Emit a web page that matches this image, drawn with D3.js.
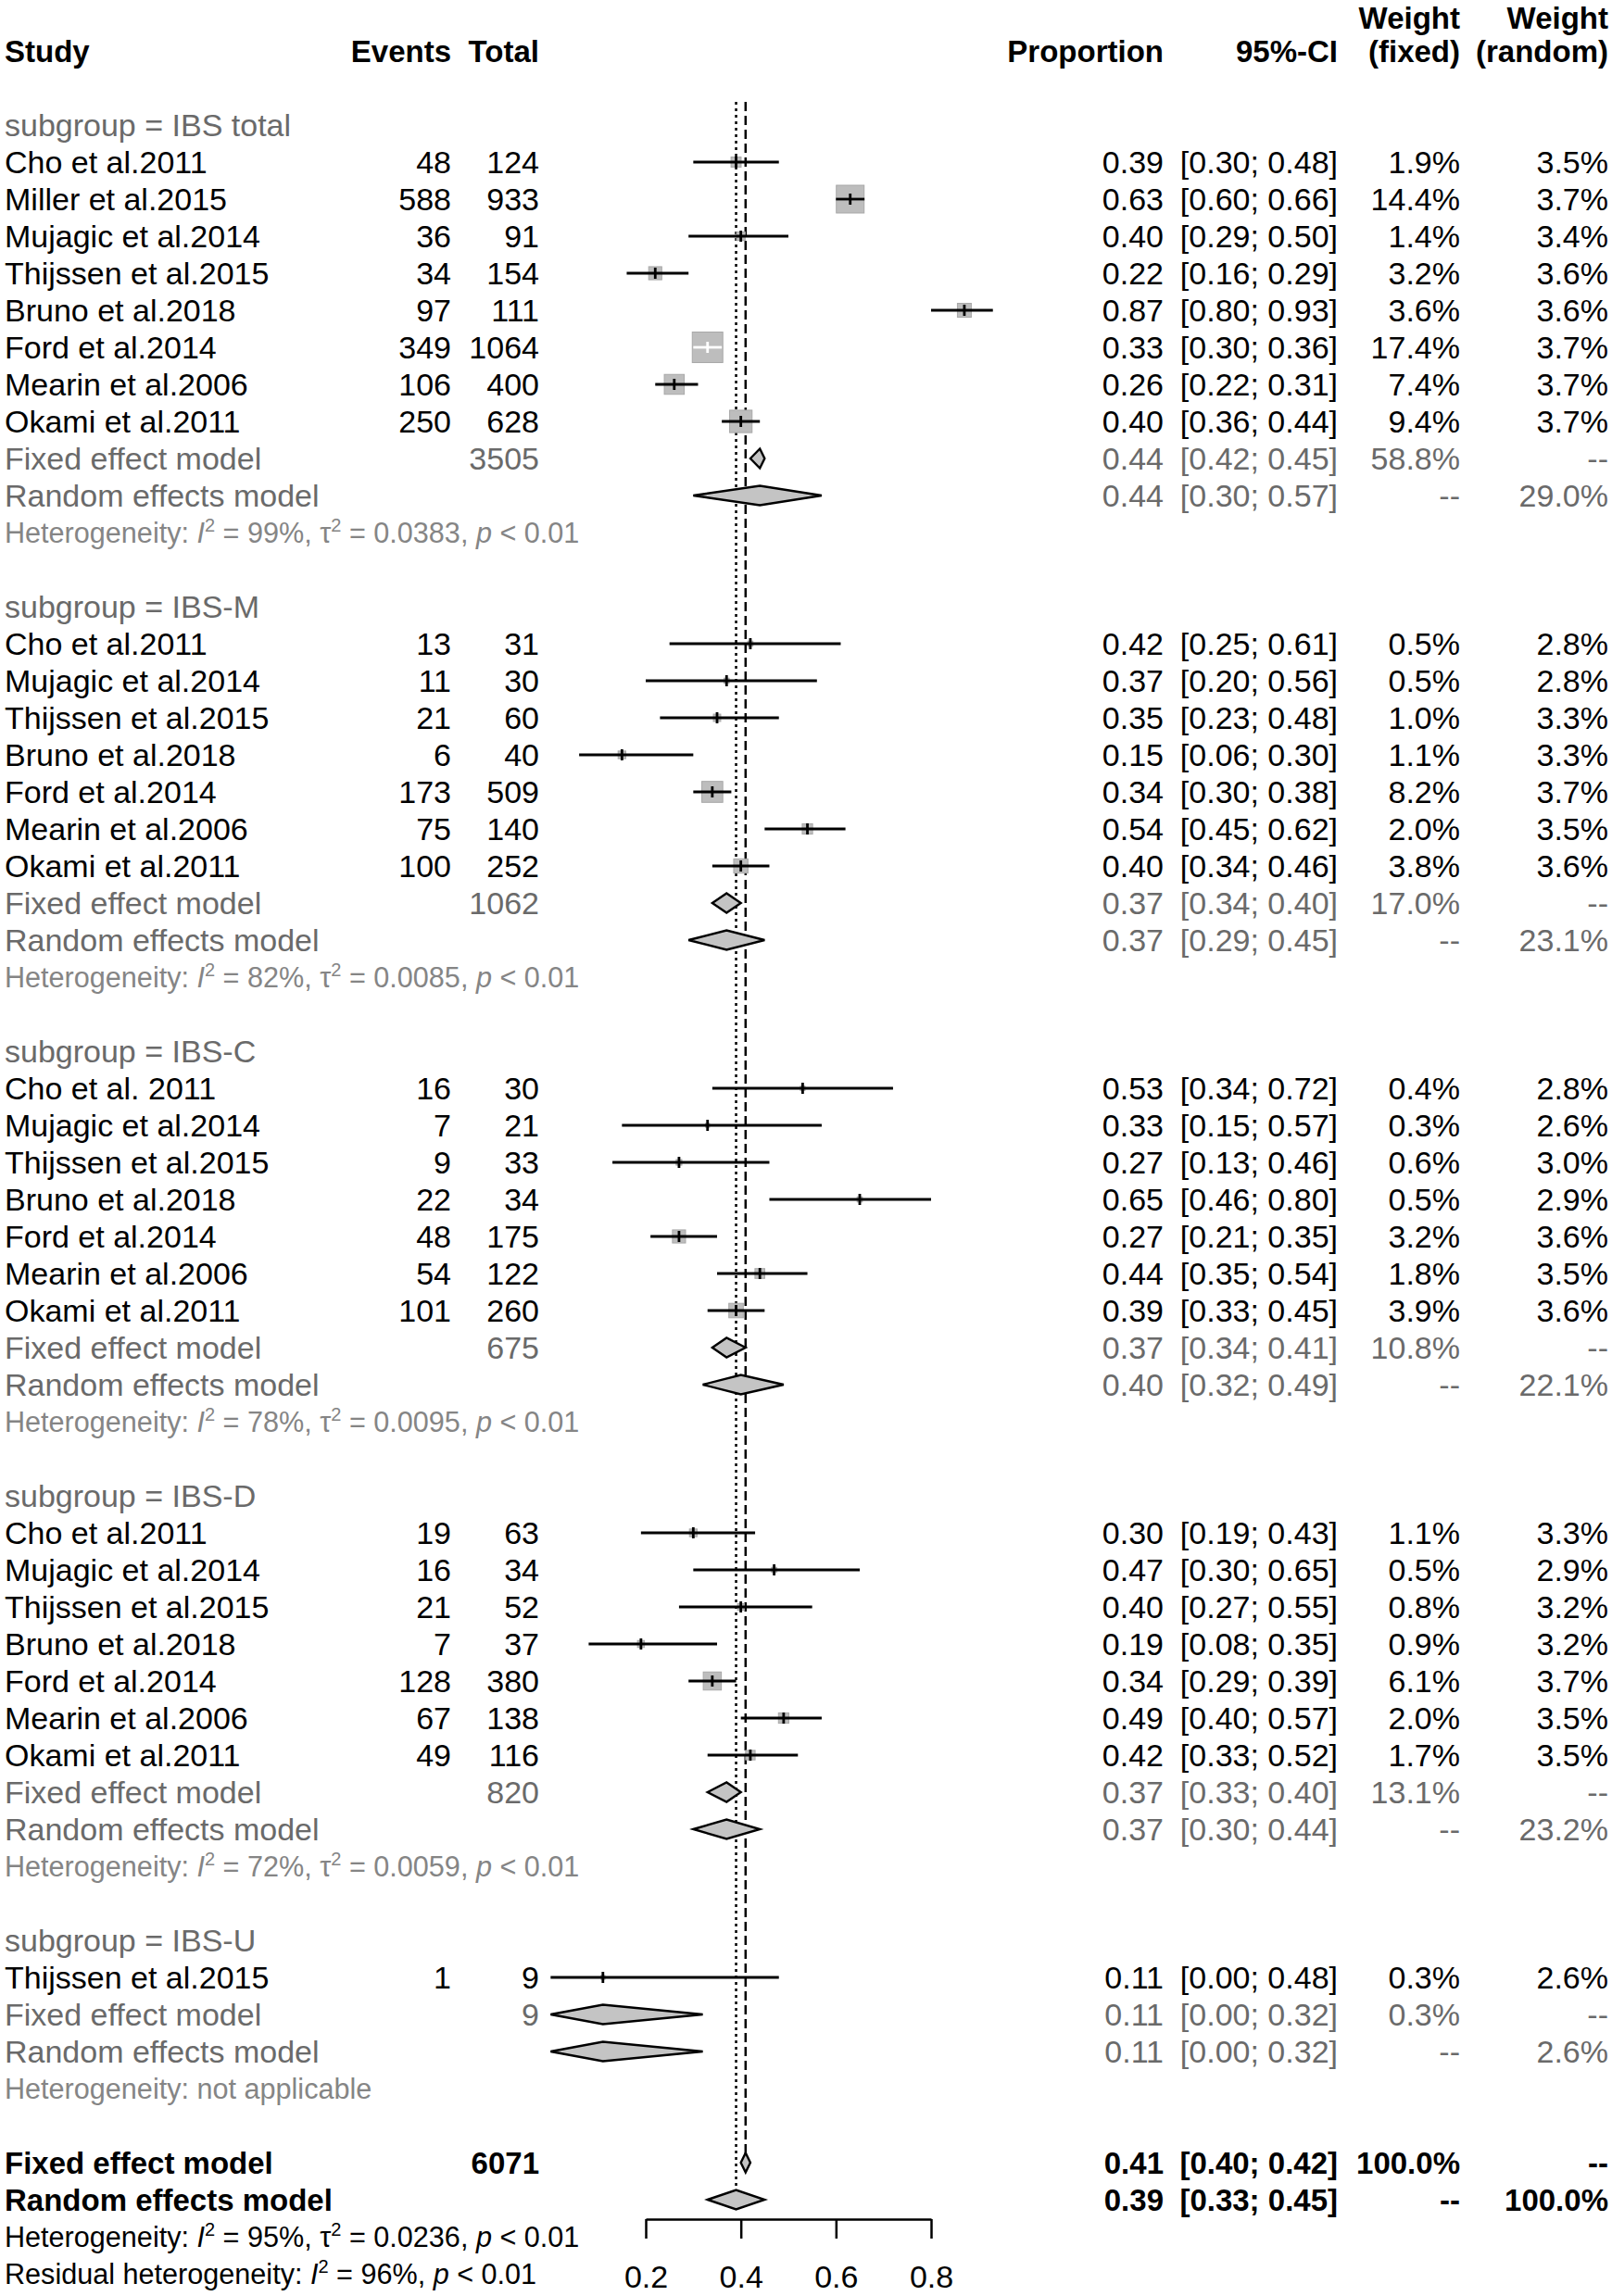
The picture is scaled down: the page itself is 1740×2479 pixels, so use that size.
<!DOCTYPE html>
<html>
<head>
<meta charset="utf-8">
<script src="https://cdn.jsdelivr.net/npm/d3@7"></script>
<style>
  body { margin: 0; background: #fff; }
  text { font-family: "Liberation Sans", Arial, sans-serif; }
</style>
</head>
<body>
<svg id="chart" width="1740" height="2479"></svg>
<script>
// ---- data ----
var subgroups = ['IBS total', 'IBS-M', 'IBS-C', 'IBS-D', 'IBS-U'];

var studyGroup = [0, 0, 0, 0, 0, 0, 0, 0,
  1, 1, 1, 1, 1, 1, 1,
  2, 2, 2, 2, 2, 2, 2,
  3, 3, 3, 3, 3, 3, 3,
  4];
var studyNames = [
  'Cho et al.2011', 'Miller et al.2015', 'Mujagic et al.2014', 'Thijssen et al.2015', 'Bruno et al.2018', 'Ford et al.2014', 'Mearin et al.2006', 'Okami et al.2011',
  'Cho et al.2011', 'Mujagic et al.2014', 'Thijssen et al.2015', 'Bruno et al.2018', 'Ford et al.2014', 'Mearin et al.2006', 'Okami et al.2011',
  'Cho et al. 2011', 'Mujagic et al.2014', 'Thijssen et al.2015', 'Bruno et al.2018', 'Ford et al.2014', 'Mearin et al.2006', 'Okami et al.2011',
  'Cho et al.2011', 'Mujagic et al.2014', 'Thijssen et al.2015', 'Bruno et al.2018', 'Ford et al.2014', 'Mearin et al.2006', 'Okami et al.2011',
  'Thijssen et al.2015'];
var events = [48, 588, 36, 34, 97, 349, 106, 250,
  13, 11, 21, 6, 173, 75, 100,
  16, 7, 9, 22, 48, 54, 101,
  19, 16, 21, 7, 128, 67, 49,
  1];
var totals = [124, 933, 91, 154, 111, 1064, 400, 628,
  31, 30, 60, 40, 509, 140, 252,
  30, 21, 33, 34, 175, 122, 260,
  63, 34, 52, 37, 380, 138, 116,
  9];
var props = [0.39, 0.63, 0.40, 0.22, 0.87, 0.33, 0.26, 0.40,
  0.42, 0.37, 0.35, 0.15, 0.34, 0.54, 0.40,
  0.53, 0.33, 0.27, 0.65, 0.27, 0.44, 0.39,
  0.30, 0.47, 0.40, 0.19, 0.34, 0.49, 0.42,
  0.11];
var ciLow = [0.30, 0.60, 0.29, 0.16, 0.80, 0.30, 0.22, 0.36,
  0.25, 0.20, 0.23, 0.06, 0.30, 0.45, 0.34,
  0.34, 0.15, 0.13, 0.46, 0.21, 0.35, 0.33,
  0.19, 0.30, 0.27, 0.08, 0.29, 0.40, 0.33,
  0.00];
var ciHigh = [0.48, 0.66, 0.50, 0.29, 0.93, 0.36, 0.31, 0.44,
  0.61, 0.56, 0.48, 0.30, 0.38, 0.62, 0.46,
  0.72, 0.57, 0.46, 0.80, 0.35, 0.54, 0.45,
  0.43, 0.65, 0.55, 0.35, 0.39, 0.57, 0.52,
  0.48];
var weightFixed = [1.9, 14.4, 1.4, 3.2, 3.6, 17.4, 7.4, 9.4,
  0.5, 0.5, 1.0, 1.1, 8.2, 2.0, 3.8,
  0.4, 0.3, 0.6, 0.5, 3.2, 1.8, 3.9,
  1.1, 0.5, 0.8, 0.9, 6.1, 2.0, 1.7,
  0.3];
var weightRandom = [3.5, 3.7, 3.4, 3.6, 3.6, 3.7, 3.7, 3.7,
  2.8, 2.8, 3.3, 3.3, 3.7, 3.5, 3.6,
  2.8, 2.6, 3.0, 2.9, 3.6, 3.5, 3.6,
  3.3, 2.9, 3.2, 3.2, 3.7, 3.5, 3.5,
  2.6];

// subgroup summaries
var groupN = [3505, 1062, 675, 820, 9];
var groupFixedEst = [0.44, 0.37, 0.37, 0.37, 0.11];
var groupFixedLow = [0.42, 0.34, 0.34, 0.33, 0.00];
var groupFixedHigh = [0.45, 0.40, 0.41, 0.40, 0.32];
var groupFixedWeight = [58.8, 17.0, 10.8, 13.1, 0.3];
var groupRandomEst = [0.44, 0.37, 0.40, 0.37, 0.11];
var groupRandomLow = [0.30, 0.29, 0.32, 0.30, 0.00];
var groupRandomHigh = [0.57, 0.45, 0.49, 0.44, 0.32];
var groupRandomWeight = [29.0, 23.1, 22.1, 23.2, 2.6];
var groupI2 = ['99%', '82%', '78%', '72%', null];
var groupTau2 = ['0.0383', '0.0085', '0.0095', '0.0059', null];

// overall
var overallN = 6071;
var overallFixed = [0.41, 0.40, 0.42];
var overallRandom = [0.39, 0.33, 0.45];
var overallI2 = '95%', overallTau2 = '0.0236', residualI2 = '96%';

var tickValues = [0.2, 0.4, 0.6, 0.8];

// ---- layout ----
var FS = 34, BFS = 33, HFS = 30.6;
var GREY = '#6a6a6a', HGREY = '#858585';
var svg = d3.select('#chart');
var x = d3.scaleLinear().domain([0.2, 0.8]).range([697, 1005]);
var y = d3.scaleLinear().domain([0, 60]).range([55, 2455]);
var col = { name: 5, events: 487, total: 582, prop: 1256, ci: 1444, wf: 1576, wr: 1736 };
var f2 = d3.format('.2f'), f1 = d3.format('.1f');
var pct = function(v) { return f1(v) + '%'; };
var ci = function(lo, hi) { return '[' + f2(lo) + '; ' + f2(hi) + ']'; };

var textLayer = svg.append('g');
var refLayer = svg.append('g');
var markLayer = svg.append('g');

function put(s, xx, row, anchor, opts) {
  opts = opts || {};
  return textLayer.append('text')
    .attr('x', xx).attr('y', y(row)).attr('dy', '0.35em')
    .attr('text-anchor', anchor)
    .attr('font-size', opts.bold ? BFS : FS)
    .attr('font-weight', opts.bold ? 'bold' : 'normal')
    .attr('fill', opts.fill || '#000')
    .text(s);
}

function hetLine(row, label, i2, tau2, fill) {
  var t = textLayer.append('text')
    .attr('x', col.name).attr('y', y(row)).attr('dy', '0.35em')
    .attr('font-size', HFS).attr('fill', fill);
  if (i2 === null) { t.text(label + 'not applicable'); return; }
  t.append('tspan').text(label);
  t.append('tspan').attr('font-style', 'italic').text('I');
  t.append('tspan').attr('font-size', 20).attr('dy', -12).text('2');
  t.append('tspan').attr('dy', 12).text(' = ' + i2 + ', ');
  if (tau2 !== null) {
    t.append('tspan').text('\u03c4');
    t.append('tspan').attr('font-size', 20).attr('dy', -12).text('2');
    t.append('tspan').attr('dy', 12).text(' = ' + tau2 + ', ');
  }
  t.append('tspan').attr('font-style', 'italic').text('p');
  t.append('tspan').text(' < 0.01');
}

function diamond(row, est, lo, hi) {
  var yc = y(row), h = 10.5;
  markLayer.append('polygon')
    .attr('points', [[x(lo), yc], [x(est), yc - h], [x(hi), yc], [x(est), yc + h]].join(' '))
    .attr('fill', '#c4c4c4').attr('stroke', '#000').attr('stroke-width', 2.4);
}

// header
put('Study', col.name, 0, 'start', { bold: true });
put('Events', col.events, 0, 'end', { bold: true });
put('Total', col.total, 0, 'end', { bold: true });
put('Proportion', col.prop, 0, 'end', { bold: true });
put('95%-CI', col.ci, 0, 'end', { bold: true });
put('Weight', col.wf, -0.9, 'end', { bold: true });
put('(fixed)', col.wf, 0, 'end', { bold: true });
put('Weight', col.wr, -0.9, 'end', { bold: true });
put('(random)', col.wr, 0, 'end', { bold: true });

var row = 2;
var studyRows = [];
subgroups.forEach(function(g, gi) {
  put('subgroup = ' + g, col.name, row, 'start', { fill: GREY });
  var idx = d3.range(studyNames.length).filter(function(i) { return studyGroup[i] === gi; });
  idx.forEach(function(i, k) {
    var r = row + 1 + k;
    studyRows.push({ i: i, row: r });
    put(studyNames[i], col.name, r, 'start');
    put(events[i], col.events, r, 'end');
    put(totals[i], col.total, r, 'end');
    put(f2(props[i]), col.prop, r, 'end');
    put(ci(ciLow[i], ciHigh[i]), col.ci, r, 'end');
    put(pct(weightFixed[i]), col.wf, r, 'end');
    put(pct(weightRandom[i]), col.wr, r, 'end');
  });
  var rf = row + 1 + idx.length, rr = rf + 1, rh = rf + 2;
  put('Fixed effect model', col.name, rf, 'start', { fill: GREY });
  put(groupN[gi], col.total, rf, 'end', { fill: GREY });
  put(f2(groupFixedEst[gi]), col.prop, rf, 'end', { fill: GREY });
  put(ci(groupFixedLow[gi], groupFixedHigh[gi]), col.ci, rf, 'end', { fill: GREY });
  put(pct(groupFixedWeight[gi]), col.wf, rf, 'end', { fill: GREY });
  put('--', col.wr, rf, 'end', { fill: GREY });
  put('Random effects model', col.name, rr, 'start', { fill: GREY });
  put(f2(groupRandomEst[gi]), col.prop, rr, 'end', { fill: GREY });
  put(ci(groupRandomLow[gi], groupRandomHigh[gi]), col.ci, rr, 'end', { fill: GREY });
  put('--', col.wf, rr, 'end', { fill: GREY });
  put(pct(groupRandomWeight[gi]), col.wr, rr, 'end', { fill: GREY });
  hetLine(rh, 'Heterogeneity: ', groupI2[gi], groupTau2[gi], HGREY);
  diamond(rf, groupFixedEst[gi], groupFixedLow[gi], groupFixedHigh[gi]);
  diamond(rr, groupRandomEst[gi], groupRandomLow[gi], groupRandomHigh[gi]);
  row = rh + 2;
});

// overall
var rowF = row, rowR = row + 1;
put('Fixed effect model', col.name, rowF, 'start', { bold: true });
put(overallN, col.total, rowF, 'end', { bold: true });
put(f2(overallFixed[0]), col.prop, rowF, 'end', { bold: true });
put(ci(overallFixed[1], overallFixed[2]), col.ci, rowF, 'end', { bold: true });
put('100.0%', col.wf, rowF, 'end', { bold: true });
put('--', col.wr, rowF, 'end', { bold: true });
put('Random effects model', col.name, rowR, 'start', { bold: true });
put(f2(overallRandom[0]), col.prop, rowR, 'end', { bold: true });
put(ci(overallRandom[1], overallRandom[2]), col.ci, rowR, 'end', { bold: true });
put('--', col.wf, rowR, 'end', { bold: true });
put('100.0%', col.wr, rowR, 'end', { bold: true });
hetLine(rowR + 1, 'Heterogeneity: ', overallI2, overallTau2, '#000');
hetLine(rowR + 2, 'Residual heterogeneity: ', residualI2, null, '#000');

// reference lines (fixed: dashed, random: dotted)
refLayer.append('line')
  .attr('x1', x(overallFixed[0])).attr('x2', x(overallFixed[0]))
  .attr('y1', 110).attr('y2', y(rowF) - 10)
  .attr('stroke', '#000').attr('stroke-width', 2.5).attr('stroke-dasharray', '10,5');
refLayer.append('line')
  .attr('x1', x(overallRandom[0])).attr('x2', x(overallRandom[0]))
  .attr('y1', 110).attr('y2', y(rowR) - 10)
  .attr('stroke', '#000').attr('stroke-width', 2.5).attr('stroke-dasharray', '3,4');

// study boxes, CI lines, estimate ticks
var boxSide = function(w) { return 7.9 * Math.sqrt(w); };
var studies = markLayer.selectAll('g.study').data(studyRows).join('g').attr('class', 'study');
studies.append('rect')
  .attr('x', function(d) { return x(props[d.i]) - boxSide(weightFixed[d.i]) / 2; })
  .attr('y', function(d) { return y(d.row) - boxSide(weightFixed[d.i]) / 2; })
  .attr('width', function(d) { return boxSide(weightFixed[d.i]); })
  .attr('height', function(d) { return boxSide(weightFixed[d.i]); })
  .attr('fill', '#bdbdbd').attr('stroke', '#a8a8a8').attr('stroke-width', 1);
var lineCol = function(d) {
  var s = boxSide(weightFixed[d.i]);
  return (x(ciHigh[d.i]) - x(ciLow[d.i]) < s) ? '#fff' : '#000';
};
studies.append('line')
  .attr('x1', function(d) { return x(ciLow[d.i]); })
  .attr('x2', function(d) { return x(ciHigh[d.i]); })
  .attr('y1', function(d) { return y(d.row); })
  .attr('y2', function(d) { return y(d.row); })
  .attr('stroke', lineCol).attr('stroke-width', 2.8);
studies.append('line')
  .attr('x1', function(d) { return x(props[d.i]); })
  .attr('x2', function(d) { return x(props[d.i]); })
  .attr('y1', function(d) { return y(d.row) - 6; })
  .attr('y2', function(d) { return y(d.row) + 6; })
  .attr('stroke', lineCol).attr('stroke-width', 2.8);

diamond(rowF, overallFixed[0], overallFixed[1], overallFixed[2]);
diamond(rowR, overallRandom[0], overallRandom[1], overallRandom[2]);

// x axis
var axis = d3.axisBottom(x).tickValues(tickValues).tickFormat(d3.format('.1f'))
  .tickSize(21).tickSizeOuter(0).tickPadding(29);
var ax = svg.append('g').attr('transform', 'translate(0,2396)').call(axis);
ax.select('.domain').attr('stroke-width', 2.5);
ax.selectAll('.tick line').attr('stroke-width', 2.5);
ax.selectAll('.tick text').attr('font-size', FS).attr('fill', '#000')
  .attr('font-family', '"Liberation Sans", Arial, sans-serif');
</script>
</body>
</html>
